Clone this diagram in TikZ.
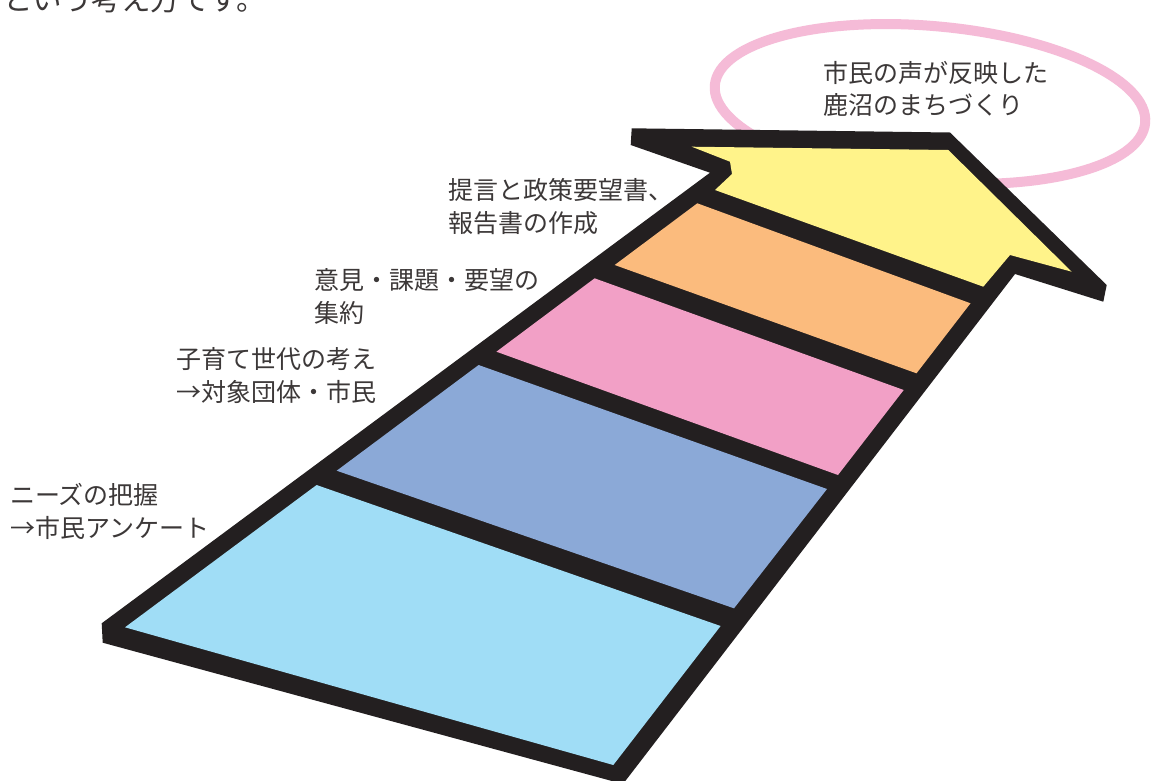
\documentclass[tikz,border=0pt]{standalone}
\usepackage{fontspec}
\newfontfamily\jp{Noto Sans CJK JP}
\definecolor{outline}{RGB}{35,31,32}
\definecolor{ringpink}{RGB}{245,187,215}
\definecolor{txt}{RGB}{60,56,56}
\definecolor{cyellow}{RGB}{255,243,138}
\definecolor{corange}{RGB}{251,187,125}
\definecolor{cpink}{RGB}{242,160,198}
\definecolor{cblue}{RGB}{139,169,215}
\definecolor{clight}{RGB}{160,221,246}
\tikzset{
  lbl/.style={inner sep=0pt, align=left, text=txt, font=\jp\fontsize{25}{33}\selectfont},
}
\begin{document}
\begin{tikzpicture}[x=1pt,y=-1pt]
\useasboundingbox (0,0) rectangle (1151,780);
\clip (0,0) rectangle (1151,780);
\fill[white] (0,0) rectangle (1151,780);
% ring behind the arrow
\draw[ringpink, line width=10pt, rotate around={-5:(930,104)}] (930,104) ellipse [x radius=216, y radius=78];
% black arrow body
\fill[outline] (631.7,128.3) -- (950,132.5) -- (1106.7,285) -- (1103.3,301.7) -- (1015,274)
  -- (623,784) -- (102.7,642.7) -- (101.7,623.3) -- (710,172.7) -- (630.7,145) -- cycle;
% coloured steps
\fill[cyellow] (691.7,146.7) -- (948.3,150) -- (1071.7,271.7) -- (1010,255) -- (983.3,286.7)
  -- (715,190) -- (732,174) -- (730,161.7) -- cycle;
\fill[corange] (697.3,203.3) -- (970.5,303.3) -- (916.5,373.3) -- (614.7,265) -- cycle;
\fill[cpink] (594.6,278.3) -- (903.7,390) -- (838,475) -- (496.4,351.7) -- cycle;
\fill[cblue] (478.6,365) -- (827,489) -- (734,608.3) -- (336.7,470.7) -- cycle;
\fill[clight] (316.6,485) -- (720.6,626) -- (613.3,765) -- (125,627.3) -- cycle;
% texts
\node[lbl, anchor=base west, font=\jp\fontsize{29.5}{32}\selectfont] (intro) at (3,10.5) {という考え方です。};
\node[lbl, anchor=west, font=\jp\fontsize{25}{32}\selectfont] (goal) at (823,89) {市民の声が反映した\\鹿沼のまちづくり};
\node[lbl, anchor=west] (s4) at (448,206.5) {提言と政策要望書、\\報告書の作成};
\node[lbl, anchor=west] (s3) at (314,296.5) {意見・課題・要望の\\集約};
\node[lbl, anchor=west] (s2) at (176,375.7) {子育て世代の考え\\→対象団体・市民};
\node[lbl, anchor=west] (s1) at (10,511.5) {ニーズの把握\\→市民アンケート};
\end{tikzpicture}
\end{document}
